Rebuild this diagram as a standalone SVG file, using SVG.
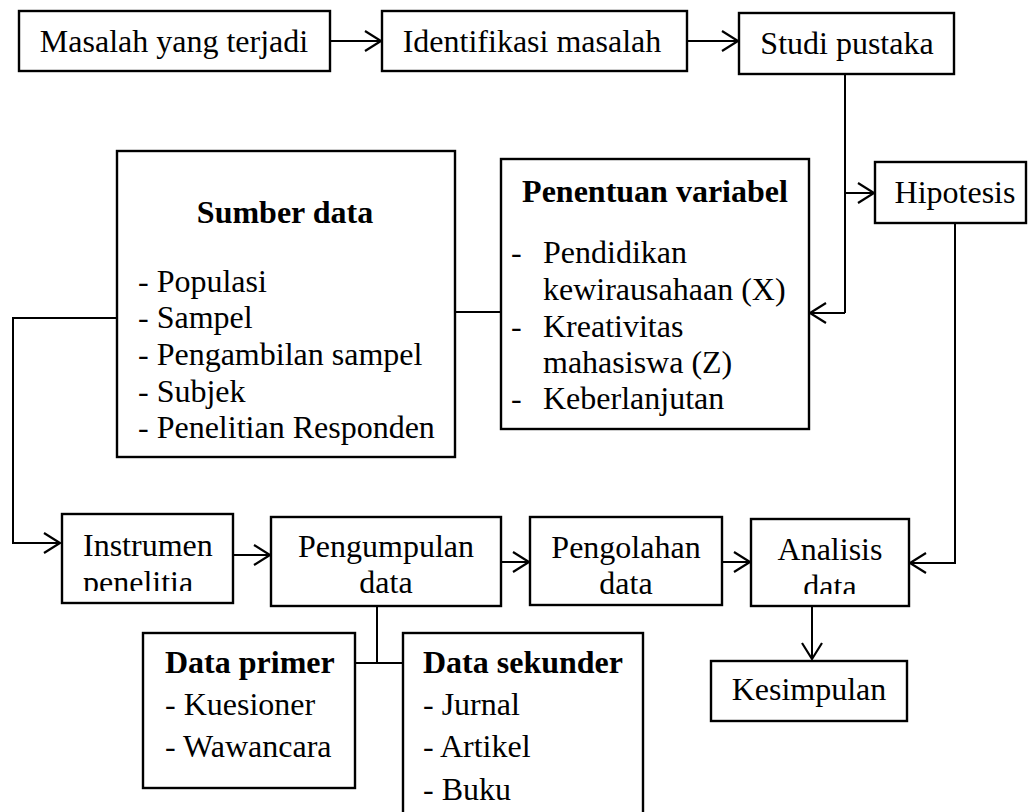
<svg xmlns="http://www.w3.org/2000/svg" width="1030" height="812" viewBox="0 0 1030 812">
<style>
.box{fill:#fff;stroke:#000;stroke-width:2.4}
.ln{fill:none;stroke:#000;stroke-width:2}
.arr{marker-end:url(#ah)}
text{font-family:"Liberation Serif","Times New Roman",serif;font-size:32px;fill:#000}
.c{text-anchor:middle}
.b{font-weight:bold}
</style>
<defs>
<marker id="ah" markerUnits="userSpaceOnUse" markerWidth="22" markerHeight="26" viewBox="-19 -13 22 26" refX="0" refY="0" orient="auto">
<path d="M-16,-10 L0,0 L-16,10" fill="none" stroke="#000" stroke-width="2.2"/>
</marker>
<clipPath id="clipInst"><rect x="62" y="514" width="171" height="77"/></clipPath>
<clipPath id="clipAna"><rect x="751" y="519" width="158" height="75"/></clipPath>
</defs>
<rect width="1030" height="812" fill="#fff"/>

<g id="connectors">
<path class="ln arr" d="M330,41 H381"/>
<path class="ln arr" d="M687,41 H738"/>
<path class="ln" d="M845,74 V313"/>
<path class="ln arr" d="M845,313 H810"/>
<path class="ln arr" d="M845,193 H874"/>
<path class="ln arr" d="M955,223 V563 H910"/>
<path class="ln" d="M455,312 H501"/>
<path class="ln arr" d="M117,318 H13 V543 H60"/>
<path class="ln arr" d="M233,555 H270"/>
<path class="ln arr" d="M501,562 H529"/>
<path class="ln arr" d="M722,562 H750"/>
<path class="ln arr" d="M812,606 V659"/>
<path class="ln" d="M377,606 V663"/>
<path class="ln" d="M355,663 H403"/>
</g>

<g id="masalah">
<rect class="box" x="19" y="11" width="311" height="60"/>
<text class="c" x="174" y="52">Masalah yang terjadi</text>
</g>
<g id="identifikasi">
<rect class="box" x="382" y="11" width="305" height="60"/>
<text class="c" x="532" y="52">Identifikasi masalah</text>
</g>
<g id="studi">
<rect class="box" x="739" y="13" width="215" height="61"/>
<text class="c" x="847" y="54">Studi pustaka</text>
</g>
<g id="hipotesis">
<rect class="box" x="875" y="162" width="151" height="61"/>
<text class="c" x="955" y="203">Hipotesis</text>
</g>
<g id="sumber">
<rect class="box" x="117" y="151" width="338" height="306"/>
<text class="c b" x="285" y="223">Sumber data</text>
<text x="138" y="292">- Populasi</text>
<text x="138" y="328">- Sampel</text>
<text x="138" y="365">- Pengambilan sampel</text>
<text x="138" y="402">- Subjek</text>
<text x="138" y="438">- Penelitian Responden</text>
</g>
<g id="penentuan">
<rect class="box" x="501" y="159" width="308" height="270"/>
<text class="c b" x="655" y="202">Penentuan variabel</text>
<text x="511" y="263">-</text>
<text x="543" y="263">Pendidikan</text>
<text x="543" y="300">kewirausahaan (X)</text>
<text x="511" y="337">-</text>
<text x="543" y="337">Kreativitas</text>
<text x="543" y="373">mahasiswa (Z)</text>
<text x="511" y="409">-</text>
<text x="543" y="409">Keberlanjutan</text>
</g>
<g id="instrumen">
<rect class="box" x="62" y="514" width="171" height="89"/>
<g clip-path="url(#clipInst)">
<text x="83" y="556">Instrumen</text>
<text x="83" y="593">penelitia</text>
</g>
</g>
<g id="pengumpulan">
<rect class="box" x="271" y="517" width="230" height="89"/>
<text class="c" x="386" y="557">Pengumpulan</text>
<text class="c" x="386" y="593">data</text>
</g>
<g id="pengolahan">
<rect class="box" x="530" y="517" width="192" height="88"/>
<text class="c" x="626" y="558">Pengolahan</text>
<text class="c" x="626" y="594">data</text>
</g>
<g id="analisis">
<rect class="box" x="751" y="519" width="158" height="87"/>
<text class="c" x="830" y="560">Analisis</text>
<g clip-path="url(#clipAna)">
<text class="c" x="830" y="597">data</text>
</g>
</g>
<g id="kesimpulan">
<rect class="box" x="711" y="661" width="196" height="60"/>
<text class="c" x="809" y="700">Kesimpulan</text>
</g>
<g id="primer">
<rect class="box" x="143" y="633" width="212" height="155"/>
<text class="b" x="165" y="673">Data primer</text>
<text x="165" y="715">- Kuesioner</text>
<text x="165" y="757">- Wawancara</text>
</g>
<g id="sekunder">
<rect class="box" x="403" y="633" width="240" height="190"/>
<text class="b" x="423" y="673">Data sekunder</text>
<text x="423" y="715">- Jurnal</text>
<text x="423" y="757">- Artikel</text>
<text x="423" y="800">- Buku</text>
</g>
</svg>
